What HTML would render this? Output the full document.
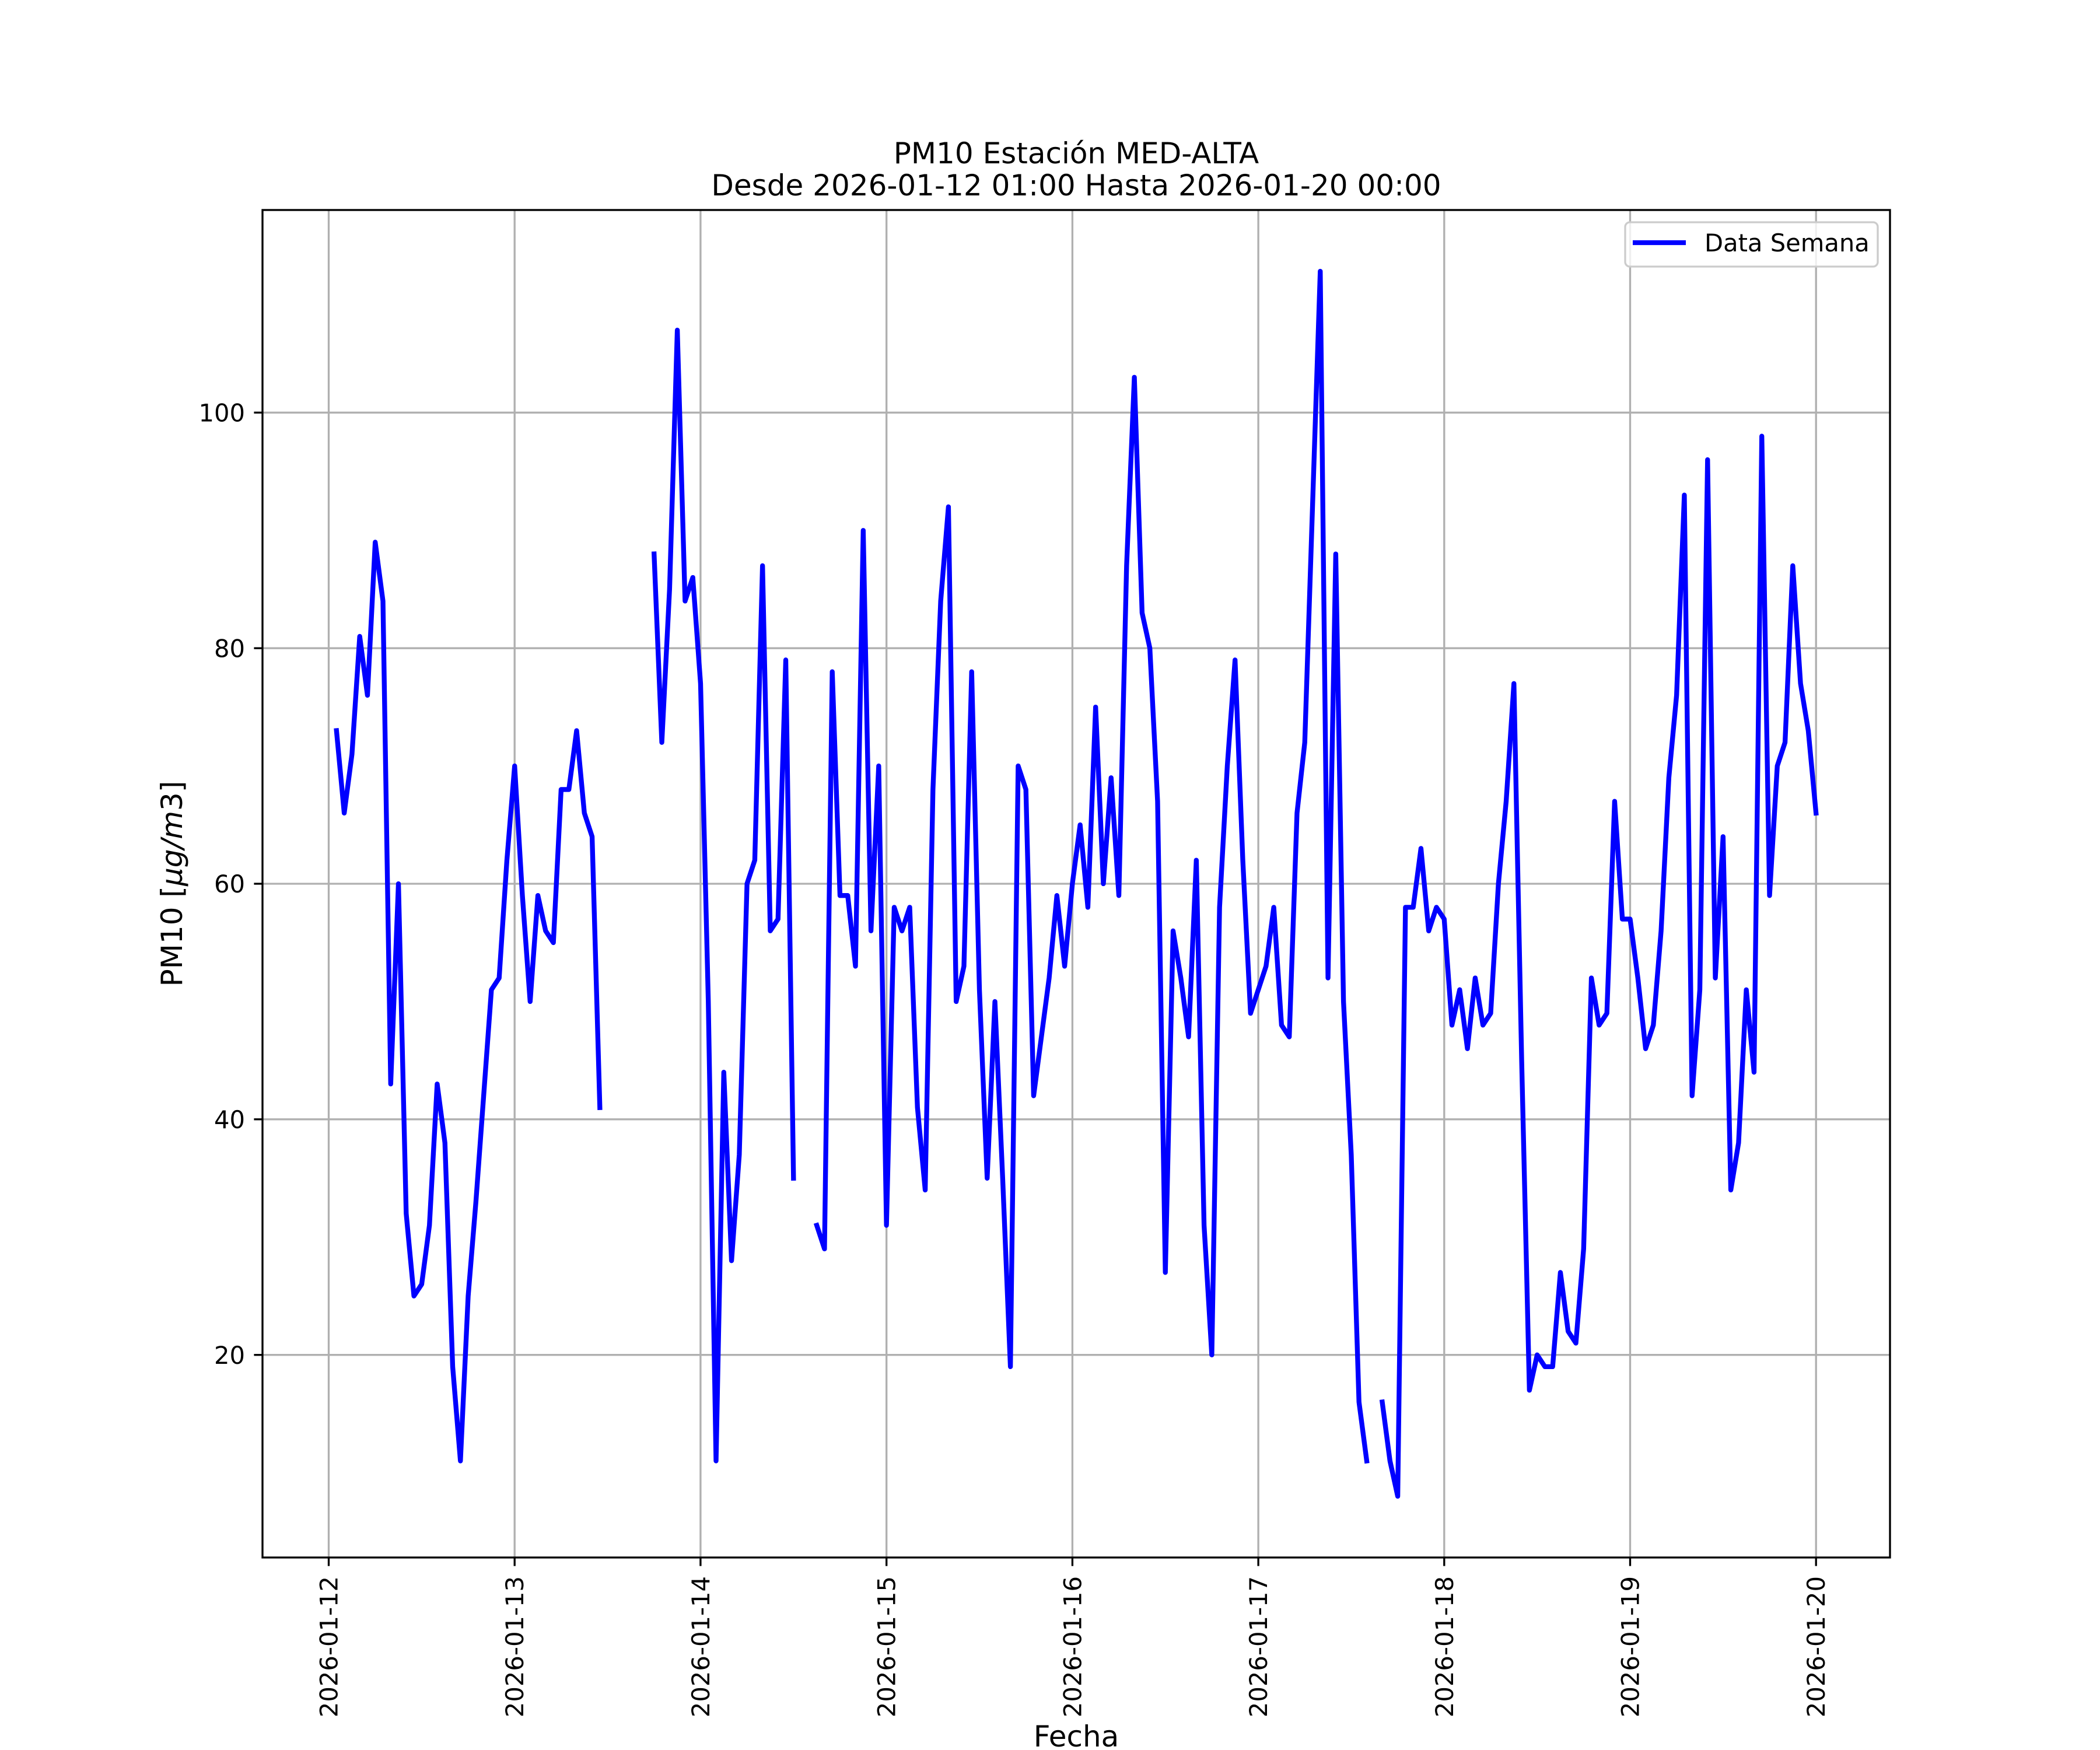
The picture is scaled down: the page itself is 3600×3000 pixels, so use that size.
<!DOCTYPE html>
<html>
<head>
<meta charset="utf-8">
<style>
html,body{margin:0;padding:0;background:#fff;}
svg{display:block;}
text{font-family:"DejaVu Sans","Liberation Sans",sans-serif;fill:#000;}
</style>
</head>
<body>
<svg xmlns="http://www.w3.org/2000/svg" width="3600" height="3000" viewBox="0 0 3600 3000">
<rect x="0" y="0" width="3600" height="3000" fill="#ffffff"/>
<rect x="450" y="360" width="2790" height="2310" fill="#ffffff"/>

<!-- grid -->
<g stroke="#b0b0b0" stroke-width="3.33" fill="none">
<line x1="563.5" y1="360" x2="563.5" y2="2670"/>
<line x1="882.2" y1="360" x2="882.2" y2="2670"/>
<line x1="1200.9" y1="360" x2="1200.9" y2="2670"/>
<line x1="1519.7" y1="360" x2="1519.7" y2="2670"/>
<line x1="1838.4" y1="360" x2="1838.4" y2="2670"/>
<line x1="2157.1" y1="360" x2="2157.1" y2="2670"/>
<line x1="2475.8" y1="360" x2="2475.8" y2="2670"/>
<line x1="2794.5" y1="360" x2="2794.5" y2="2670"/>
<line x1="3113.2" y1="360" x2="3113.2" y2="2670"/>
<line x1="450" y1="2322.7" x2="3240" y2="2322.7"/>
<line x1="450" y1="1918.8" x2="3240" y2="1918.8"/>
<line x1="450" y1="1515.0" x2="3240" y2="1515.0"/>
<line x1="450" y1="1111.2" x2="3240" y2="1111.2"/>
<line x1="450" y1="707.3" x2="3240" y2="707.3"/>
</g>

<!-- data -->
<g transform="matrix(13.2794 0 0 -20.1923 563.538 2726.54)" fill="none" stroke="#0000ff" stroke-linejoin="round" stroke-linecap="square">
<polyline vector-effect="non-scaling-stroke" stroke-width="8.33" points="1,73 2,66 3,71 4,81 5,76 6,89 7,84 8,43 9,60 10,32 11,25 12,26 13,31 14,43 15,38 16,19 17,11 18,25 19,33 20,42 21,51 22,52 23,62 24,70 25,59 26,50 27,59 28,56 29,55 30,68 31,68 32,73 33,66 34,64 35,41"/>
<polyline vector-effect="non-scaling-stroke" stroke-width="8.33" points="42,88 43,72 44,85 45,107 46,84 47,86 48,77 49,50 50,11 51,44 52,28 53,37 54,60 55,62 56,87 57,56 58,57 59,79 60,35"/>
<polyline vector-effect="non-scaling-stroke" stroke-width="8.33" points="63,31 64,29 65,78 66,59 67,59 68,53 69,90 70,56 71,70 72,31 73,58 74,56 75,58 76,41 77,34 78,68 79,84 80,92 81,50 82,53 83,78 84,51 85,35 86,50 87,35 88,19 89,70 90,68 91,42 92,47 93,52 94,59 95,53 96,60 97,65 98,58 99,75 100,60 101,69 102,59 103,87 104,103 105,83 106,80 107,67 108,27 109,56 110,52 111,47 112,62 113,31 114,20 115,58 116,70 117,79 118,62 119,49 120,51 121,53 122,58 123,48 124,47 125,66 126,72 127,92 128,112 129,52 130,88 131,50 132,37 133,16 134,11"/>
<polyline vector-effect="non-scaling-stroke" stroke-width="8.33" points="136,16 137,11 138,8 139,58 140,58 141,63 142,56 143,58 144,57 145,48 146,51 147,46 148,52 149,48 150,49 151,60 152,67 153,77 154,45 155,17 156,20 157,19 158,19 159,27 160,22 161,21 162,29 163,52 164,48 165,49 166,67 167,57 168,57 169,52 170,46 171,48 172,56 173,69 174,76 175,93 176,42 177,51 178,96 179,52 180,64 181,34 182,38 183,51 184,44 185,98 186,59 187,70 188,72 189,87 190,77 191,73 192,66"/>
</g>

<!-- spines -->
<rect x="450" y="360" width="2790" height="2310" fill="none" stroke="#000" stroke-width="3.33"/>

<!-- ticks -->
<g stroke="#000" stroke-width="3.33">
<line x1="563.5" y1="2670" x2="563.5" y2="2684.6"/>
<line x1="882.2" y1="2670" x2="882.2" y2="2684.6"/>
<line x1="1200.9" y1="2670" x2="1200.9" y2="2684.6"/>
<line x1="1519.7" y1="2670" x2="1519.7" y2="2684.6"/>
<line x1="1838.4" y1="2670" x2="1838.4" y2="2684.6"/>
<line x1="2157.1" y1="2670" x2="2157.1" y2="2684.6"/>
<line x1="2475.8" y1="2670" x2="2475.8" y2="2684.6"/>
<line x1="2794.5" y1="2670" x2="2794.5" y2="2684.6"/>
<line x1="3113.2" y1="2670" x2="3113.2" y2="2684.6"/>
<line x1="435.4" y1="2322.7" x2="450" y2="2322.7"/>
<line x1="435.4" y1="1918.8" x2="450" y2="1918.8"/>
<line x1="435.4" y1="1515.0" x2="450" y2="1515.0"/>
<line x1="435.4" y1="1111.2" x2="450" y2="1111.2"/>
<line x1="435.4" y1="707.3" x2="450" y2="707.3"/>
</g>

<!-- y tick labels -->
<g font-size="41.67" text-anchor="end">
<text x="420" y="2337.9">20</text>
<text x="420" y="1934.0">40</text>
<text x="420" y="1530.2">60</text>
<text x="420" y="1126.4">80</text>
<text x="420" y="722.5">100</text>
</g>

<!-- x tick labels -->
<g font-size="41.67" text-anchor="end">
<text transform="translate(578.5,2702) rotate(-90)">2026-01-12</text>
<text transform="translate(897.2,2702) rotate(-90)">2026-01-13</text>
<text transform="translate(1215.9,2702) rotate(-90)">2026-01-14</text>
<text transform="translate(1534.7,2702) rotate(-90)">2026-01-15</text>
<text transform="translate(1853.4,2702) rotate(-90)">2026-01-16</text>
<text transform="translate(2172.1,2702) rotate(-90)">2026-01-17</text>
<text transform="translate(2490.8,2702) rotate(-90)">2026-01-18</text>
<text transform="translate(2809.5,2702) rotate(-90)">2026-01-19</text>
<text transform="translate(3128.2,2702) rotate(-90)">2026-01-20</text>
</g>

<!-- axis labels -->
<text x="1845" y="2994" font-size="50" text-anchor="middle">Fecha</text>
<text transform="translate(312,1515) rotate(-90)" font-size="50" text-anchor="middle">PM10 [<tspan font-style="italic">μg/m</tspan>3]</text>

<!-- title -->
<text x="1845" y="280" font-size="50" text-anchor="middle">PM10 Estación MED-ALTA</text>
<text x="1845" y="335" font-size="50" text-anchor="middle">Desde 2026-01-12 01:00 Hasta 2026-01-20 00:00</text>

<!-- legend -->
<rect x="2786" y="381" width="433" height="76" rx="8" ry="8" fill="#ffffff" fill-opacity="0.8" stroke="#cccccc" stroke-width="3.33"/>
<line x1="2799" y1="416" x2="2890" y2="416" stroke="#0000ff" stroke-width="8.33" stroke-linecap="butt"/>
<text x="2922" y="431" font-size="41.67">Data Semana</text>
</svg>
</body>
</html>
